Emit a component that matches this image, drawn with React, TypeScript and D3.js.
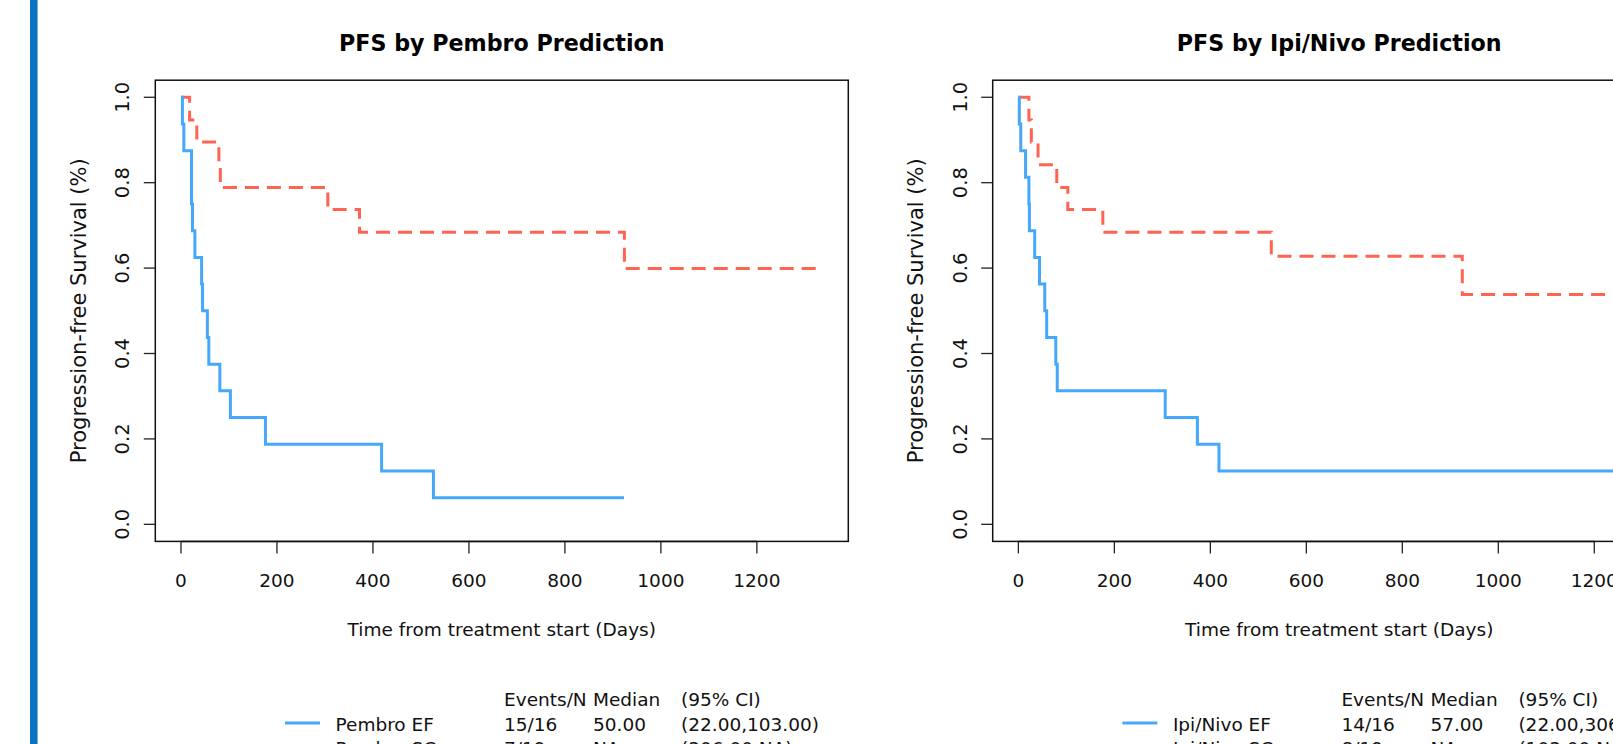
import React from "react";
import * as d3 from "d3";

// ---- data ----
const xTicks = [0, 200, 400, 600, 800, 1000, 1200];
const yTicks = [0, 0.2, 0.4, 0.6, 0.8, 1.0];
const yTickLabels = ["0.0", "0.2", "0.4", "0.6", "0.8", "1.0"];
const xMaxDays = 1337;

const pembroEFTime = [0, 3, 6, 22, 24, 29, 43, 45, 55, 58, 81, 103, 176, 418, 526, 923];
const pembroEFSurv = [1, 0.9375, 0.875, 0.75, 0.6875, 0.625, 0.5625, 0.5, 0.4375, 0.375, 0.3125, 0.25, 0.1875, 0.125, 0.0625, 0.0625];

const pembroSCTime = [0, 18, 33, 79, 82, 306, 372, 924, 1337];
const pembroSCSurv = [1, 0.947, 0.895, 0.842, 0.789, 0.737, 0.684, 0.599, 0.599];

const ipiEFTime = [0, 2, 5, 15, 22, 23, 34, 44, 55, 59, 78, 81, 306, 373, 418, 1337];
const ipiEFSurv = [1, 0.9375, 0.875, 0.8125, 0.75, 0.6875, 0.625, 0.5625, 0.5, 0.4375, 0.375, 0.3125, 0.25, 0.1875, 0.125, 0.125];

const ipiSCTime = [0, 22, 27, 41, 80, 103, 176, 527, 925, 1337];
const ipiSCSurv = [1, 0.947, 0.895, 0.842, 0.789, 0.737, 0.684, 0.628, 0.538, 0.538];

const legendHeader = ["Events/N", "Median", "(95% CI)"];
const pembroRows = [
  ["Pembro EF", "15/16", "50.00", "(22.00,103.00)"],
  ["Pembro SC", "7/19", "NA", "(306.00,NA)"],
];
const ipiRows = [
  ["Ipi/Nivo EF", "14/16", "57.00", "(22.00,306.00)"],
  ["Ipi/Nivo SC", "8/19", "NA", "(103.00,NA)"],
];

const titles = ["PFS by Pembro Prediction", "PFS by Ipi/Nivo Prediction"];

// ---- layout ----
const W = 1613;
const H = 744;
const PANEL_DX = 837.4;
const L = 155.3, R = 848.3, T = 80.2, B = 541.4;
const FONT = "'DejaVu Sans', Verdana, sans-serif";
const FS = 18.5;
const BLUE = "#45A8FA";
const RED = "#FF6352";

type Curve = { time: number[]; surv: number[] };

function Panel({ dx, title, ef, sc, rows }: { dx: number; title: string; ef: Curve; sc: Curve; rows: string[][] }) {
  const x = d3.scaleLinear().domain([-0.04 * xMaxDays, 1.04 * xMaxDays]).range([L + dx, R + dx]);
  const y = d3.scaleLinear().domain([-0.04, 1.04]).range([B, T]);
  const line = d3
    .line<[number, number]>()
    .x((d) => x(d[0]))
    .y((d) => y(d[1]))
    .curve(d3.curveStepAfter);
  const pts = (c: Curve) => c.time.map((t, i) => [t, c.surv[i]] as [number, number]);
  const cx = (L + R) / 2 + dx;
  const colX = [335.5, 504, 593, 681].map((v) => v + dx);
  const lineX0 = 285 + dx, lineX1 = 320 + dx;
  const rowBase = [730.5, 755];
  const rowLineY = [723, 747.5];
  return (
    <g>
      <text x={cx} y={50.7} textAnchor="middle" fontWeight="bold" fontSize={22.2} fontFamily={FONT} fill="#000">
        {title}
      </text>
      <rect x={L + dx} y={T} width={R - L} height={B - T} fill="none" stroke="#111" strokeWidth={1.5} />
      {/* x axis */}
      <line x1={x(xTicks[0])} x2={x(xTicks[xTicks.length - 1])} y1={B} y2={B} stroke="#111" strokeWidth={1.5} />
      {xTicks.map((t) => (
        <g key={"x" + t}>
          <line x1={x(t)} x2={x(t)} y1={B} y2={B + 12} stroke="#222" strokeWidth={1.3} />
          <text x={x(t)} y={587.3} textAnchor="middle" fontSize={FS} fontFamily={FONT} fill="#111">
            {t}
          </text>
        </g>
      ))}
      {/* y axis */}
      {yTicks.map((v, i) => (
        <g key={"y" + v}>
          <line x1={L + dx - 11.5} x2={L + dx} y1={y(v)} y2={y(v)} stroke="#222" strokeWidth={1.3} />
          <text
            x={129.5 + dx}
            y={y(v)}
            textAnchor="middle"
            fontSize={19.5}
            fontFamily={FONT}
            fill="#111"
            transform={`rotate(-90, ${129.5 + dx}, ${y(v)})`}
          >
            {yTickLabels[i]}
          </text>
        </g>
      ))}
      <text
        x={86 + dx}
        y={(T + B) / 2}
        textAnchor="middle"
        fontSize={21}
        fontFamily={FONT}
        fill="#111"
        transform={`rotate(-90, ${86 + dx}, ${(T + B) / 2})`}
      >
        Progression-free Survival (%)
      </text>
      <text x={cx} y={636} textAnchor="middle" fontSize={FS} fontFamily={FONT} fill="#111">
        Time from treatment start (Days)
      </text>
      {/* curves */}
      <path d={line(pts(sc)) || ""} fill="none" stroke={RED} strokeWidth={3} strokeDasharray="14 8" />
      <path d={line(pts(ef)) || ""} fill="none" stroke={BLUE} strokeWidth={3} />
      {/* legend */}
      {legendHeader.map((h, i) => (
        <text key={"h" + i} x={colX[i + 1]} y={706} fontSize={FS} fontFamily={FONT} fill="#111">
          {h}
        </text>
      ))}
      {rows.map((r, ri) => (
        <g key={"r" + ri}>
          <line
            x1={lineX0}
            x2={lineX1}
            y1={rowLineY[ri]}
            y2={rowLineY[ri]}
            stroke={ri === 0 ? BLUE : RED}
            strokeWidth={3}
            strokeDasharray={ri === 0 ? undefined : "14 8"}
          />
          {r.map((s, ci) => (
            <text key={ci} x={colX[ci]} y={rowBase[ri]} fontSize={FS} fontFamily={FONT} fill="#111">
              {s}
            </text>
          ))}
        </g>
      ))}
    </g>
  );
}

export default function App() {
  return (
    <svg
      width={W}
      height={H}
      viewBox={`0 0 ${W} ${H}`}
      style={{ position: "absolute", left: 0, top: 0, display: "block", background: "#fff" }}
    >
      <rect x={0} y={0} width={W} height={H} fill="#fff" />
      <rect x={30} y={0} width={7.6} height={H} fill="#0B72C4" />
      <Panel dx={0} title={titles[0]} ef={{ time: pembroEFTime, surv: pembroEFSurv }} sc={{ time: pembroSCTime, surv: pembroSCSurv }} rows={pembroRows} />
      <Panel dx={PANEL_DX} title={titles[1]} ef={{ time: ipiEFTime, surv: ipiEFSurv }} sc={{ time: ipiSCTime, surv: ipiSCSurv }} rows={ipiRows} />
    </svg>
  );
}
